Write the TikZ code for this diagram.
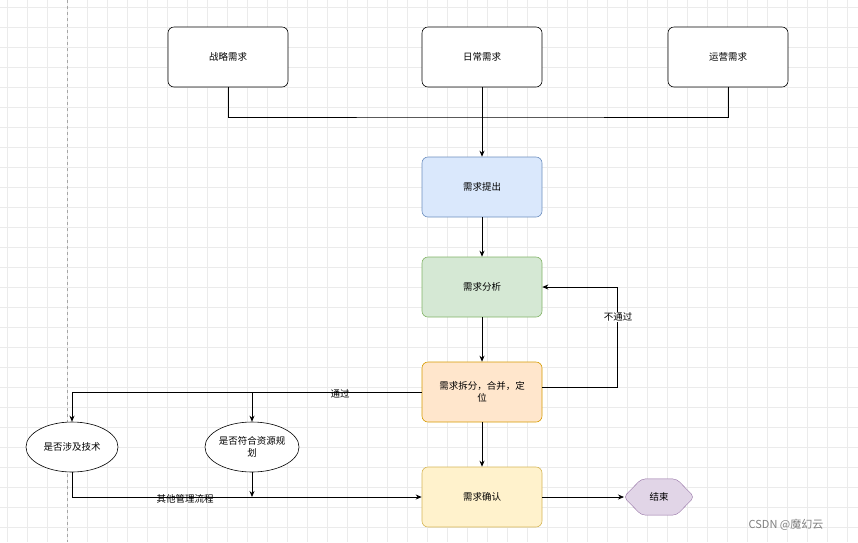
\documentclass[tikz,border=0pt]{standalone}
\usepackage{fontspec}
\setmainfont{Noto Sans CJK SC}
\usetikzlibrary{arrows.meta,shapes.geometric}
\definecolor{gridc}{HTML}{EBEBEB}
\begin{document}
\begin{tikzpicture}[x=1pt,y=-1pt,font=\fontsize{9.5}{12}\selectfont,
 box/.style={draw,rounded corners=6pt,minimum width=120pt,minimum height=60pt,align=center,line width=0.6pt},
 ell/.style={draw,ellipse,minimum width=92pt,minimum height=50pt,inner sep=0pt,align=center,line width=0.6pt,fill=white},
 con/.style={line width=0.8pt},
 arr/.style={con,-{Stealth[length=6pt,width=5pt]}}]
\fill[white] (0,0) rectangle (858,542);
\useasboundingbox (0,0) rectangle (858,542);
\foreach \i in {0,20,...,858} \draw[gridc,line width=0.4pt] (\i+7,0) -- (\i+7,542);
\foreach \j in {0,20,...,542} \draw[gridc,line width=0.4pt] (0,\j+7) -- (858,\j+7);
\draw[gray!70,dashed,line width=0.5pt] (67,0) -- (67,542);
\node[box,fill=white] (a) at (228,57) {战略需求};
\node[box,fill=white] (b) at (482,57) {日常需求};
\node[box,fill=white] (c) at (728,57) {运营需求};
\node[box,fill={rgb,255:red,218;green,232;blue,252},draw={rgb,255:red,108;green,142;blue,191}] (d) at (482,187) {需求提出};
\node[box,fill={rgb,255:red,213;green,232;blue,212},draw={rgb,255:red,130;green,179;blue,102}] (e) at (482,287) {需求分析};
\node[box,fill={rgb,255:red,255;green,230;blue,204},draw={rgb,255:red,215;green,155;blue,0}] (f) at (482,392) {需求拆分，合并，定\\位};
\node[box,fill={rgb,255:red,255;green,242;blue,204},draw={rgb,255:red,214;green,182;blue,86}] (g) at (482,497) {需求确认};
\node[draw={rgb,255:red,150;green,115;blue,166},fill={rgb,255:red,225;green,213;blue,231},regular polygon,regular polygon sides=6,shape border rotate=0,minimum size=44pt,inner sep=0pt,xscale=1.6,yscale=0.95,rounded corners=4pt] (h) at (659,497) {};
\node at (659,497) {结束};
\node[ell] (p) at (72,447) {是否涉及技术};
\node[ell,minimum width=90pt] (q) at (252,447) {是否符合资源规\\划};
\coordinate (j1) at (482,117);
\draw[con] (a.south) |- (j1) -| (c.south);
\draw[arr] (b.south) -- (d.north);
\draw[arr] (d) -- (e);
\draw[arr] (e) -- (f);
\draw[arr] (f) -- (g);
\draw[arr] (f.east |- 0,387) -- (617,387) |- (e.east);
\node[fill=white,inner sep=1pt] at (618,317) {不通过};
\draw[arr] (f.west) -- (72,392) -- (p.north);
\draw[arr] (252,392) -- (q.north);
\node at (340,394) {通过};
\draw[arr] (p.south) |- (g.west);
\node at (185,499) {其他管理流程};
\draw[arr] (q.south) -- (252,497);
\draw[arr] (g.east) -- (624,497);
\node[gray,font=\fontsize{11}{12}\selectfont] at (786,525) {CSDN @魔幻云};
\end{tikzpicture}
\end{document}
